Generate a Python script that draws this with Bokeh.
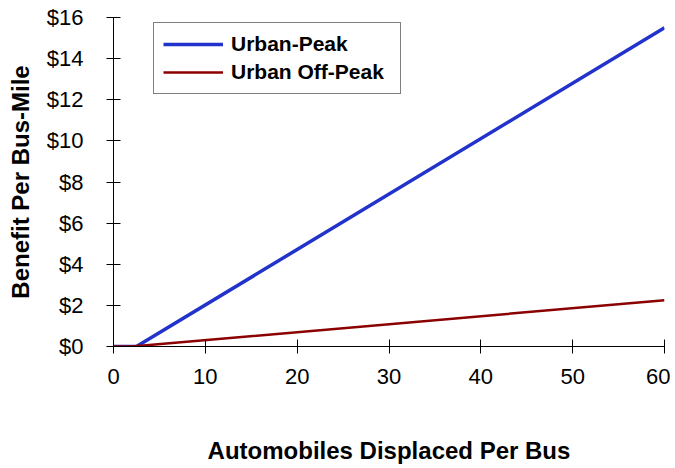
from bokeh.plotting import figure
from bokeh.models import Range1d, NumeralTickFormatter, Legend, LegendItem, FixedTicker
from bokeh.embed import file_html
from bokeh.resources import INLINE

# data
peak_x = [0, 2.5, 60]
peak_y = [0, 0, 15.5]
offpeak_x = [0, 2, 60]
offpeak_y = [0, 0, 2.25]
x_ticks = [0, 10, 20, 30, 40, 50, 60]
y_ticks = [0, 2, 4, 6, 8, 10, 12, 14, 16]

FONT = "Liberation Sans"

p = figure(width=670, height=466, output_backend="svg", toolbar_location=None,
           x_range=Range1d(0, 60), y_range=Range1d(0, 16),
           min_border_left=113, min_border_right=6, min_border_top=17, min_border_bottom=118)
p.outline_line_color = None
p.xgrid.visible = False
p.ygrid.visible = False

r1 = p.line(peak_x, peak_y, line_color="#2233CC", line_width=3.5)
r2 = p.line(offpeak_x, offpeak_y, line_color="#8B0000", line_width=2.5)

for ax in (p.xaxis[0], p.yaxis[0]):
    ax.axis_line_color = "black"
    ax.major_tick_line_color = "black"
    ax.major_tick_in = 7
    ax.major_tick_out = 7
    ax.minor_tick_line_color = None
    ax.major_label_text_font = FONT
    ax.major_label_text_font_size = "22px"
    ax.major_label_text_color = "black"
    ax.axis_label_text_font = FONT
    ax.axis_label_text_font_style = "bold"
    ax.axis_label_text_font_size = "24px"
    ax.axis_label_text_color = "black"

p.xaxis.ticker = FixedTicker(ticks=x_ticks)
p.yaxis.ticker = FixedTicker(ticks=y_ticks)
p.yaxis.formatter = NumeralTickFormatter(format="$0")
p.xaxis.axis_label = "Automobiles Displaced Per Bus"
p.yaxis.axis_label = "Benefit Per Bus-Mile"
p.xaxis.major_label_standoff = 15
p.xaxis.axis_label_standoff = 50
p.yaxis.major_label_standoff = 23
p.yaxis.axis_label_standoff = 10

legend = Legend(items=[LegendItem(label="Urban-Peak", renderers=[r1]),
                       LegendItem(label="Urban Off-Peak", renderers=[r2])],
                location=(40, 252))
legend.label_text_font = FONT
legend.label_text_font_style = "bold"
legend.label_text_font_size = "21px"
legend.label_text_color = "black"
legend.glyph_width = 60
legend.label_width = 160
legend.label_standoff = 8
legend.padding = 9
legend.spacing = 4
legend.margin = 0
legend.border_line_color = "black"
legend.border_line_width = 1
legend.background_fill_alpha = 1
p.add_layout(legend, "center")

open("out.html", "w").write(file_html(p, INLINE))
